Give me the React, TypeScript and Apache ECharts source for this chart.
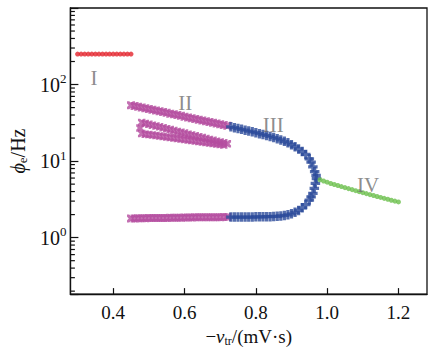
import React, { useEffect, useRef } from "react";
import * as echarts from "echarts";

const X_MIN = 0.28;
const X_MAX = 1.28;
const Y_MIN = 0.183;
const Y_MAX = 1000;

// Region I (red)
const redX = [0.30, 0.31, 0.32, 0.33, 0.34, 0.35, 0.36, 0.37, 0.38, 0.39, 0.40, 0.41, 0.42, 0.43, 0.44, 0.45];
const redY = [250, 250, 250, 250, 250, 250, 250, 250, 250, 250, 250, 250, 250, 250, 250, 250];

// Region II (magenta) upper branch
const magUpX = [0.45, 0.46, 0.47, 0.48, 0.49, 0.50, 0.51, 0.52, 0.53, 0.54, 0.55, 0.56, 0.57, 0.58, 0.59, 0.60, 0.61, 0.62, 0.63, 0.64, 0.65, 0.66, 0.67, 0.68, 0.69, 0.70, 0.71, 0.72];
const magUpY = [53.7, 52.5, 51.3, 50.1, 49.0, 47.9, 46.8, 45.7, 44.7, 43.7, 42.7, 41.7, 40.8, 39.9, 39.0, 38.1, 37.2, 36.4, 35.6, 34.8, 34.0, 33.2, 32.5, 31.7, 31.0, 30.3, 29.6, 28.9];
// Region II loop
const loopX = [0.48, 0.49, 0.50, 0.51, 0.52, 0.53, 0.54, 0.55, 0.56, 0.57, 0.58, 0.59, 0.60, 0.61, 0.62, 0.63, 0.64, 0.65, 0.66, 0.67, 0.68, 0.69, 0.70, 0.71, 0.72,
  0.71, 0.70, 0.69, 0.68, 0.67, 0.66, 0.65, 0.64, 0.63, 0.62, 0.61, 0.60, 0.59, 0.58, 0.57, 0.56, 0.55, 0.54, 0.53, 0.52, 0.51, 0.50, 0.49, 0.48, 0.475];
const loopY = [32.0, 31.1, 30.3, 29.5, 28.7, 28.0, 27.2, 26.5, 25.8, 25.1, 24.4, 23.8, 23.2, 22.5, 22.0, 21.4, 20.8, 20.3, 19.7, 19.2, 18.7, 18.2, 17.7, 17.3, 16.8,
  16.2, 16.5, 16.7, 17.0, 17.2, 17.5, 17.7, 18.0, 18.3, 18.6, 18.8, 19.1, 19.4, 19.7, 20.0, 20.3, 20.6, 20.9, 21.2, 21.6, 21.9, 22.2, 22.5, 22.9, 27.0];
// Region II lower branch
const magLowX = [0.45, 0.46, 0.47, 0.48, 0.49, 0.50, 0.51, 0.52, 0.53, 0.54, 0.55, 0.56, 0.57, 0.58, 0.59, 0.60, 0.61, 0.62, 0.63, 0.64, 0.65, 0.66, 0.67, 0.68, 0.69, 0.70, 0.71, 0.72];
const magLowY = [1.78, 1.78, 1.79, 1.79, 1.79, 1.80, 1.80, 1.80, 1.81, 1.81, 1.81, 1.82, 1.82, 1.82, 1.82, 1.83, 1.83, 1.83, 1.84, 1.84, 1.84, 1.84, 1.85, 1.85, 1.85, 1.85, 1.86, 1.86];

// Region III (blue)
const blueX = [0.73, 0.74, 0.75, 0.76, 0.77, 0.78, 0.79, 0.80, 0.81, 0.82, 0.83, 0.84, 0.85, 0.86, 0.87, 0.88, 0.89, 0.90, 0.91, 0.92, 0.93, 0.94, 0.95, 0.955, 0.96, 0.965, 0.969,
  0.970,
  0.967, 0.964, 0.960, 0.955, 0.95, 0.94, 0.93, 0.92, 0.91, 0.90, 0.89, 0.88, 0.87, 0.86, 0.85, 0.84, 0.83, 0.82, 0.81, 0.80, 0.79, 0.78, 0.77, 0.76, 0.75, 0.74, 0.73];
const blueY = [28.0, 27.3, 26.6, 26.0, 25.3, 24.7, 24.1, 23.5, 22.8, 22.2, 21.6, 21.0, 20.3, 19.6, 18.9, 18.1, 17.3, 16.4, 15.4, 14.4, 13.3, 12.2, 10.7, 9.7, 8.4, 7.3, 6.5,
  5.9,
  5.1, 4.4, 3.8, 3.4, 3.1, 2.7, 2.45, 2.27, 2.14, 2.05, 1.99, 1.95, 1.92, 1.90, 1.89, 1.88, 1.88, 1.87, 1.87, 1.87, 1.86, 1.86, 1.86, 1.86, 1.86, 1.86, 1.86];

// Region IV (green)
const greenX = [0.98, 0.99, 1.00, 1.01, 1.02, 1.03, 1.04, 1.05, 1.06, 1.07, 1.08, 1.09, 1.10, 1.11, 1.12, 1.13, 1.14, 1.15, 1.16, 1.17, 1.18, 1.19, 1.20];
const greenY = [5.7, 5.5, 5.3, 5.1, 4.95, 4.8, 4.65, 4.5, 4.37, 4.24, 4.11, 3.99, 3.87, 3.76, 3.65, 3.55, 3.45, 3.35, 3.26, 3.17, 3.08, 3.0, 2.93];

// Region labels
const regionNames = ["I", "II", "III", "IV"];
const regionLabelX = [0.346, 0.602, 0.849, 1.115];
const regionLabelY = [123, 58, 29.9, 4.87];

// Log minor ticks
const minorTickValues = [0.2, 0.3, 0.4, 0.5, 0.6, 0.7, 0.8, 0.9, 2, 3, 4, 5, 6, 7, 8, 9, 20, 30, 40, 50, 60, 70, 80, 90, 200, 300, 400, 500, 600, 700, 800, 900];
const majorTickValues = [1, 10, 100];
const majorTickExp = ["0", "1", "2"];

const FONT = "'Liberation Serif', 'DejaVu Serif', serif";
const INK = "#111";

const zip = (xs: number[], ys: number[]) => xs.map((x, i) => [x, ys[i]]);

const X_SYMBOL = "path://M0,0 L2.8,0 L5,2.2 L7.2,0 L10,0 L10,2.8 L7.8,5 L10,7.2 L10,10 L7.2,10 L5,7.8 L2.8,10 L0,10 L0,7.2 L2.2,5 L0,2.8 Z";
const PLUS_SYMBOL = "path://M3.3,0 H6.7 V3.3 H10 V6.7 H6.7 V10 H3.3 V6.7 H0 V3.3 H3.3 Z";

export default function App() {
  const ref = useRef<HTMLDivElement>(null);
  useEffect(() => {
    if (!ref.current) return;
    const chart = echarts.init(ref.current, undefined, { renderer: "svg" });
    const magenta = "#b44c9f";
    const option: any = {
      animation: false,
      backgroundColor: "#fff",
      grid: {
        left: 63, right: 13, top: 8, bottom: 53,
        show: true, borderColor: INK, borderWidth: 1.3, backgroundColor: "transparent",
      },
      xAxis: {
        type: "value",
        min: X_MIN,
        max: X_MAX,
        splitNumber: 5,
        splitLine: { show: false },
        axisLine: { show: true, lineStyle: { color: INK, width: 1.3 } },
        axisTick: { show: true, inside: true, length: 6, lineStyle: { color: INK, width: 1.2 } },
        axisLabel: {
          showMinLabel: false,
          showMaxLabel: false,
          color: INK,
          fontFamily: FONT,
          fontSize: 19,
          margin: 9,
          formatter: (v: number) => {
            const k = v / 0.2;
            return Math.abs(k - Math.round(k)) < 1e-6 ? v.toFixed(1) : "";
          },
        },
        name: "{m|−}{n|ν}{s|tr}{t|/(mV·s)}",
        nameLocation: "middle",
        nameGap: 27,
        nameTextStyle: {
          color: INK,
          fontFamily: FONT,
          rich: {
            m: { fontSize: 19, fontFamily: FONT, color: INK },
            n: { fontSize: 19, fontFamily: FONT, fontStyle: "italic", color: INK },
            s: { fontSize: 12, fontFamily: FONT, color: INK, padding: [9, 0, 0, 0] },
            t: { fontSize: 19, fontFamily: FONT, color: INK },
          },
        },
      },
      yAxis: {
        type: "log",
        logBase: 10,
        min: Y_MIN,
        max: Y_MAX,
        splitLine: { show: false },
        axisLine: { show: true, lineStyle: { color: INK, width: 1.3 } },
        axisTick: { show: true, inside: true, length: 8, lineStyle: { color: INK, width: 1.2 } },
        axisLabel: {
          color: INK,
          fontFamily: FONT,
          margin: 4,
          formatter: (v: number) => {
            const i = majorTickValues.findIndex((m) => Math.abs(v - m) / m < 1e-6);
            return i >= 0 ? `{b|10}{s|${majorTickExp[i]}}` : "";
          },
          rich: {
            b: { fontSize: 20, fontFamily: FONT, color: INK },
            s: { fontSize: 13, fontFamily: FONT, color: INK, padding: [0, 0, 12, 0] },
          },
        },
        name: "{a|ϕ}{b|e}{c|/Hz}",
        nameLocation: "middle",
        nameRotate: 90,
        nameGap: 38,
        nameTextStyle: {
          color: INK,
          fontFamily: FONT,
          rich: {
            a: { fontSize: 20, fontFamily: FONT, fontStyle: "italic", color: INK },
            b: { fontSize: 13, fontFamily: FONT, color: INK, padding: [9, 0, 0, 0] },
            c: { fontSize: 20, fontFamily: FONT, color: INK },
          },
        },
      },
      series: [
        {
          type: "scatter",
          data: zip(redX, redY),
          symbol: "circle",
          symbolSize: 5,
          itemStyle: { color: "#e3232c" },
        },
        {
          type: "scatter",
          data: zip(magUpX, magUpY),
          symbol: X_SYMBOL,
          symbolSize: 8,
          itemStyle: { color: magenta },
        },
        {
          type: "scatter",
          data: zip(loopX, loopY),
          symbol: X_SYMBOL,
          symbolSize: 7.5,
          itemStyle: { color: magenta },
        },
        {
          type: "scatter",
          data: zip(magLowX, magLowY),
          symbol: X_SYMBOL,
          symbolSize: 8,
          itemStyle: { color: magenta },
        },
        {
          type: "scatter",
          data: zip(blueX, blueY),
          symbol: PLUS_SYMBOL,
          symbolSize: 9.5,
          itemStyle: { color: "#2b4a9a" },
        },
        {
          type: "scatter",
          data: zip(greenX, greenY),
          symbol: "circle",
          symbolSize: 5,
          itemStyle: { color: "#6bbf4c" },
        },
        {
          type: "scatter",
          data: regionNames.map((n, i) => ({ name: n, value: [regionLabelX[i], regionLabelY[i]] })),
          symbolSize: 1,
          itemStyle: { color: "rgba(0,0,0,0)" },
          silent: true,
          label: {
            show: true,
            position: "inside",
            formatter: "{b}",
            color: "#6f6f6f",
            fontFamily: FONT,
            fontSize: 21,
          },
        },
        {
          type: "custom",
          silent: true,
          clip: false,
          data: minorTickValues.map((v) => [X_MIN, v]),
          renderItem: (params: any, api: any) => {
            const p = api.coord([api.value(0), api.value(1)]);
            return {
              type: "line",
              shape: { x1: p[0], y1: p[1], x2: p[0] + 4.5, y2: p[1] },
              style: { stroke: INK, lineWidth: 1.2 },
            };
          },
        },
      ],
    };
    chart.setOption(option);
    return () => chart.dispose();
  }, []);
  return <div ref={ref} style={{ position: "fixed", left: 0, top: 0, width: 440, height: 352 }} />;
}
